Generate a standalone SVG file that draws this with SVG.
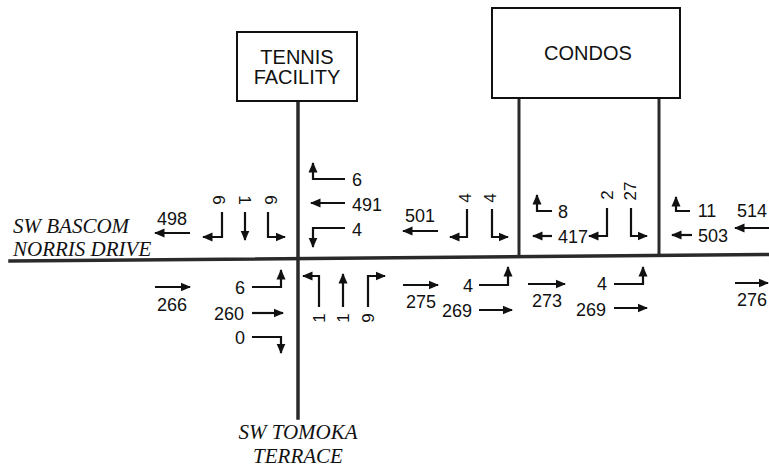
<svg xmlns="http://www.w3.org/2000/svg" width="769" height="468" viewBox="0 0 769 468">
<style>
.box{fill:#fff;stroke:#111;stroke-width:2}
.road{stroke:#2a2a2a;stroke-width:3.5;fill:none;stroke-linecap:square}
.drv{stroke:#2a2a2a;stroke-width:3;fill:none}
.arr{stroke:#111;stroke-width:2.2;fill:none;marker-end:url(#ah)}
.num{font-family:"Liberation Sans",Arial,sans-serif;font-size:18px;fill:#111}
.rot{font-family:"Liberation Sans",Arial,sans-serif;font-size:17px;fill:#111;text-anchor:middle;dominant-baseline:central}
.lbl{font-family:"Liberation Sans",Arial,sans-serif;font-size:20px;fill:#111;text-anchor:middle}
.street{font-family:"Liberation Serif","Times New Roman",serif;font-style:italic;font-size:21px;fill:#111}
</style>
<defs>
<marker id="ah" markerUnits="userSpaceOnUse" markerWidth="11" markerHeight="11" refX="9.5" refY="5.5" orient="auto">
<path d="M0,1 L10.5,5.5 L0,10 z" fill="#111"/>
</marker>
</defs>
<rect width="769" height="468" fill="#fff"/>

<g id="connectors">
<line class="road" x1="10" y1="261" x2="769" y2="254.5"/>
<line class="road" x1="298" y1="101" x2="298" y2="418"/>
<line class="drv" x1="519" y1="98" x2="519" y2="257"/>
<line class="drv" x1="659" y1="98" x2="659" y2="256"/>
</g>

<g id="tennis-facility">
<rect class="box" x="237" y="32" width="120" height="69"/>
<text class="lbl" x="297" y="64">TENNIS</text>
<text class="lbl" x="297" y="84">FACILITY</text>
</g>

<g id="condos">
<rect class="box" x="492" y="8" width="188" height="90"/>
<text class="lbl" x="588" y="60">CONDOS</text>
</g>

<g id="sw-bascom">
<text class="street" x="13" y="233">SW BASCOM</text>
<text class="street" x="13" y="256">NORRIS DRIVE</text>
</g>

<g id="sw-tomoka">
<text class="street" x="298" y="439" text-anchor="middle">SW TOMOKA</text>
<text class="street" x="298" y="463" text-anchor="middle">TERRACE</text>
</g>

<g id="movements-arrows">
<polyline class="arr" points="190,233 155,233"/>
<polyline class="arr" points="222,212 222,237 203,237"/>
<polyline class="arr" points="245,212 245,240"/>
<polyline class="arr" points="268,212 268,237 285,237"/>
<polyline class="arr" points="155,287 190,287"/>
<polyline class="arr" points="252,287 281,287 281,270"/>
<polyline class="arr" points="252,313 283,313"/>
<polyline class="arr" points="252,337 281,337 281,353"/>

<polyline class="arr" points="345,179 313,179 313,163"/>
<polyline class="arr" points="345,203 311,203"/>
<polyline class="arr" points="345,228 313,228 313,247"/>
<polyline class="arr" points="438,231 403,231"/>
<polyline class="arr" points="467,209 467,237 450,237"/>
<polyline class="arr" points="492,209 492,237 508,237"/>
<polyline class="arr" points="319,307 319,276 303,276"/>
<polyline class="arr" points="343,307 343,274"/>
<polyline class="arr" points="368,307 368,276 385,276"/>
<polyline class="arr" points="403,285 438,285"/>
<polyline class="arr" points="479,285 508,285 508,267"/>
<polyline class="arr" points="479,310 512,310"/>

<polyline class="arr" points="552,211 537,211 537,195"/>
<polyline class="arr" points="552,236 533,236"/>
<polyline class="arr" points="607,208 607,236 589,236"/>
<polyline class="arr" points="631,208 631,236 647,236"/>
<polyline class="arr" points="690,211 676,211 676,197"/>
<polyline class="arr" points="692,235 672,235"/>
<polyline class="arr" points="769,228 735,228"/>
<polyline class="arr" points="528,284 565,284"/>
<polyline class="arr" points="614,284 643,284 643,267"/>
<polyline class="arr" points="614,308 647,308"/>
<polyline class="arr" points="735,283 768,283"/>
</g>

<g id="movements-volumes">
<text class="num" x="172" y="225" text-anchor="middle">498</text>
<text class="num" x="172" y="311" text-anchor="middle">266</text>
<text class="num" x="240" y="294" text-anchor="middle">6</text>
<text class="num" x="229" y="320" text-anchor="middle">260</text>
<text class="num" x="240" y="344" text-anchor="middle">0</text>
<text class="num" x="357" y="186" text-anchor="middle">6</text>
<text class="num" x="367" y="211" text-anchor="middle">491</text>
<text class="num" x="357" y="236" text-anchor="middle">4</text>
<text class="num" x="420" y="222" text-anchor="middle">501</text>
<text class="num" x="421" y="308" text-anchor="middle">275</text>
<text class="num" x="468" y="292" text-anchor="middle">4</text>
<text class="num" x="457" y="317" text-anchor="middle">269</text>
<text class="num" x="563" y="218" text-anchor="middle">8</text>
<text class="num" x="573" y="243" text-anchor="middle">417</text>
<text class="num" x="547" y="307" text-anchor="middle">273</text>
<text class="num" x="602" y="290" text-anchor="middle">4</text>
<text class="num" x="591" y="316" text-anchor="middle">269</text>
<text class="num" x="707" y="217" text-anchor="middle">11</text>
<text class="num" x="713" y="242" text-anchor="middle">503</text>
<text class="num" x="737" y="217">514</text>
<text class="num" x="737" y="306">276</text>

<text class="rot" transform="translate(218,200) rotate(90)">6</text>
<text class="rot" transform="translate(244,200) rotate(90)">1</text>
<text class="rot" transform="translate(270,200) rotate(90)">6</text>
<text class="rot" transform="translate(319,318) rotate(-90)">1</text>
<text class="rot" transform="translate(343,318) rotate(-90)">1</text>
<text class="rot" transform="translate(368,318) rotate(-90)">9</text>
<text class="rot" transform="translate(465,198) rotate(-90)">4</text>
<text class="rot" transform="translate(490,198) rotate(-90)">4</text>
<text class="rot" transform="translate(607,195) rotate(-90)">2</text>
<text class="rot" transform="translate(630,191) rotate(-90)">27</text>
</g>
</svg>
